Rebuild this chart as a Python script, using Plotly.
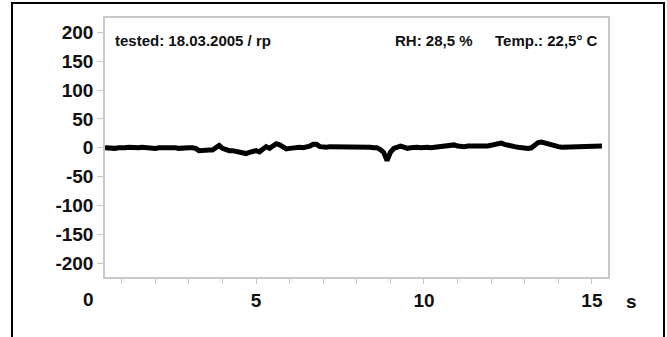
import numpy as np
import plotly.graph_objects as go

# ---- data ----
time_s = [round(0.5 + 0.1 * i, 2) for i in range(149)]
signal = [
    0, -1, 0, -1, 0, -1, 0, 1, 0, -1,          # 0.5-1.4
    0, 1, 0, -1, -2, -1, 0, 1, 0, 0,           # 1.5-2.4
    1, 0, -1, 0, 1, 0, 0, -1, -5, -4,          # 2.5-3.4
    -5, -4, -4, 0, 4, -1, -4, -5, -5, -6,      # 3.5-4.4
    -7, -9, -10, -8, -6, -5, -7, -2, 2, -1,    # 4.5-5.4
    3, 7, 5, 1, -2, -1, 0, 0, 1, 0,            # 5.5-6.4
    1, 3, 6, 6, 2, 1, 1, 2, 2, 1,              # 6.5-7.4
    2, 1, 2, 3, 2, 3, 2, 1, 2, 1,              # 7.5-8.4
    0, 0, -3, -8, -22, -8, -1, 2, 3, 1,        # 8.5-9.4
    -1, 0, 1, 1, 0, 1, 1, 0, 1, 2,             # 9.5-10.4
    2, 3, 4, 6, 5, 3, 2, 2, 3, 2,              # 10.5-11.4
    3, 3, 2, 3, 3, 4, 5, 7, 8, 6,              # 11.5-12.4
    4, 2, 2, 1, 0, -1, -1, 0, 4, 9,            # 12.5-13.4
    10, 8, 6, 5, 4, 2, 1, 1, 1, 2,             # 13.5-14.4
    2, 2, 3, 2, 3, 3, 2, 3, 3,                 # 14.5-15.3
]
y_ticks = [-200, -150, -100, -50, 0, 50, 100, 150, 200]
y_tick_labels = ["-200", "-150", "-100", "-50", "0", "50", "100", "150", "200"]
x_ticks = list(range(1, 16))
x_tick_labels = [str(v) if v % 5 == 0 else "" for v in x_ticks]
note_left = "tested: 18.03.2005 / rp"
note_rh = "RH: 28,5 %"
note_temp = "Temp.: 22,5° C"
x_unit = "s"
x_origin_label = "0"

FONT = "Liberation Sans, Arial, sans-serif"
TXT = "#111111"
AXC = "#c8c8c8"

FW, FH = 667, 337
PL, PR, PT, PB = 105, 608, 18, 277

fig = go.Figure()
fig.add_trace(go.Scatter(
    x=time_s, y=signal, mode="lines",
    line=dict(color="#000000", width=5),
    hoverinfo="skip", showlegend=False,
))

fig.update_layout(
    width=FW, height=FH,
    margin=dict(l=PL, r=FW - PR, t=PT, b=FH - PB, autoexpand=False),
    paper_bgcolor="white", plot_bgcolor="white",
    font=dict(family=FONT, color=TXT),
    showlegend=False,
)
fig.update_xaxes(
    range=[0.5, 15.48], showgrid=False, zeroline=False,
    showline=True, linecolor=AXC, linewidth=1.5, mirror=True,
    tickmode="array", tickvals=x_ticks, ticktext=x_tick_labels,
    ticks="outside", ticklen=5, tickcolor=AXC, tickwidth=1,
    tickfont=dict(size=19, family=FONT, color=TXT, weight="bold"),
    ticklabelstandoff=0,
)
fig.update_yaxes(
    range=[-224, 225], showgrid=False, zeroline=False,
    showline=True, linecolor=AXC, linewidth=1.5, mirror=True,
    tickmode="array", tickvals=y_ticks, ticktext=y_tick_labels,
    ticks="outside", ticklen=6, tickcolor=AXC, tickwidth=1,
    tickfont=dict(size=19, family=FONT, color=TXT, weight="bold"),
)

W, H = float(PR - PL), float(PB - PT)

def px(xp):
    return (xp - PL) / W

def py(yp):
    return (PB - yp) / H

def ann(text, x, y, xanchor, size):
    fig.add_annotation(
        text=text, x=px(x), y=py(y), xref="paper", yref="paper",
        xanchor=xanchor, yanchor="middle", showarrow=False,
        font=dict(size=size, family=FONT, color=TXT, weight="bold"),
    )

ann(note_left, 113, 40, "left", 15)
ann(note_rh, 393, 40, "left", 15)
ann(note_temp, 600, 40, "right", 15)
ann(x_origin_label, 88, 299, "center", 19)
ann(x_unit, 631, 301, "center", 19)

# outer frame
fig.add_shape(
    type="rect", xref="paper", yref="paper",
    x0=px(12), x1=px(664), y0=py(345), y1=py(3),
    line=dict(color="#000000", width=2), fillcolor="rgba(0,0,0,0)",
    layer="below",
)

fig.write_html(
    "out.html",
    config={"displayModeBar": False},
    post_script="document.body.style.margin='0';document.body.style.overflow='hidden';",
)
